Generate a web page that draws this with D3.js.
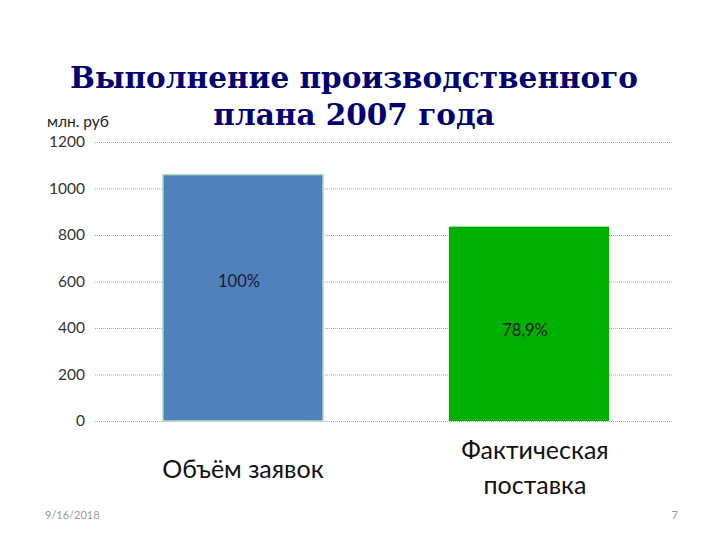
<!DOCTYPE html>
<meta charset="utf-8">
<head>
<style>
body { margin: 0; background: #fff; }
.grid line { stroke: #a6a6a6; stroke-dasharray: 1,1; }
.grid path { display: none; }
.yaxis path, .yaxis line { display: none; }
.yaxis text { font-family: Lato, "Open Sans", sans-serif; font-size: 15.5px; fill: #333; }
</style>
</head>
<body>
<script src="https://cdnjs.cloudflare.com/ajax/libs/d3/7.8.5/d3.min.js"></script>
<script>
// data
var categories = ["Объём заявок", "Фактическая поставка"];
var values = [1060, 836];
var pctLabels = ["100%", "78,9%"];
var pctAnchor = [600, 390];   // value on the y scale where the % label sits
var barColors = ["#4f81bd", "#00b000"];
var yTicks = [0, 200, 400, 600, 800, 1000, 1200];

var width = 720, height = 540;
var plotLeft = 95, plotRight = 672, plotTop = 142, plotBottom = 421;

var svg = d3.select("body").append("svg")
    .attr("width", width)
    .attr("height", height);

var x = d3.scaleBand().domain(categories).range([plotLeft + 5, plotRight]).paddingInner(0.44).paddingOuter(0.22);
var y = d3.scaleLinear().domain([0, 1200]).range([plotBottom, plotTop]);

// gridlines
svg.append("g")
    .attr("class", "grid")
    .attr("transform", "translate(" + plotLeft + ",0)")
    .call(d3.axisLeft(y).tickValues(yTicks).tickSize(-(plotRight - plotLeft)).tickFormat(""));

svg.append("g")
    .attr("class", "yaxis")
    .attr("transform", "translate(" + (plotLeft - 10) + ",0)")
    .call(d3.axisLeft(y).tickValues(yTicks).tickSize(0).tickPadding(0).tickFormat(d3.format("d")));

// bars
svg.selectAll(".bar")
    .data(values)
    .enter()
    .append("rect")
    .attr("class", "bar")
    .attr("x", function(d, i) { return x(categories[i]); })
    .attr("y", function(d) { return y(d); })
    .attr("width", x.bandwidth())
    .attr("height", function(d) { return y(0) - y(d); })
    .attr("fill", function(d, i) { return barColors[i]; })
    .attr("stroke", function(d, i) { return i == 0 ? "#b7dfc9" : "none"; })
    .attr("stroke-width", 1.5);

// percentage labels
svg.selectAll(".pct")
    .data(values)
    .enter()
    .append("text")
    .attr("x", function(d, i) { return x(categories[i]) + x.bandwidth() / 2 - 4; })
    .attr("y", function(d, i) { return y(pctAnchor[i]); })
    .attr("dy", "0.35em")
    .attr("text-anchor", "middle")
    .style("font-family", "Lato, 'Open Sans', sans-serif")
    .style("font-size", "16.5px")
    .style("fill", "#1a1a2a")
    .text(function(d, i) { return pctLabels[i]; });

// category labels
var catText = svg.selectAll(".cat")
    .data(categories)
    .enter()
    .append("text")
    .attr("text-anchor", "middle")
    .style("font-family", "Lato, 'Open Sans', sans-serif")
    .style("font-size", "25px")
    .style("fill", "#111");
catText.each(function(d) {
    var words = d.split(" ");
    var el = d3.select(this);
    var cx = x(d) + x.bandwidth() / 2 + 2;
    if (d === categories[0]) {
        el.append("tspan").attr("x", cx - 2).attr("y", 478).text(d);
    } else {
        el.append("tspan").attr("x", cx + 4).attr("y", 459).text(words[0]);
        el.append("tspan").attr("x", cx + 4).attr("y", 494).text(words[1]);
    }
});

// title
var title = svg.append("text")
    .attr("text-anchor", "middle")
    .style("font-family", "'DejaVu Serif', serif")
    .style("font-weight", "bold")
    .style("font-size", "29.5px")
    .style("fill", "#000070");
title.append("tspan").attr("x", 354).attr("y", 88).text("Выполнение производственного");
title.append("tspan").attr("x", 354).attr("y", 125).text("плана 2007 года");

// unit label
svg.append("text")
    .attr("x", 47)
    .attr("y", 127)
    .style("font-family", "Lato, 'Open Sans', sans-serif")
    .style("font-size", "15.5px")
    .style("fill", "#222")
    .text("млн. руб");

// footer
svg.append("text")
    .attr("x", 45).attr("y", 519)
    .style("font-family", "Lato, sans-serif")
    .style("font-size", "11px")
    .style("fill", "#999")
    .text("9/16/2018");
svg.append("text")
    .attr("x", 678).attr("y", 519)
    .attr("text-anchor", "end")
    .style("font-family", "Lato, sans-serif")
    .style("font-size", "11px")
    .style("fill", "#999")
    .text("7");
</script>
</body>
</html>
